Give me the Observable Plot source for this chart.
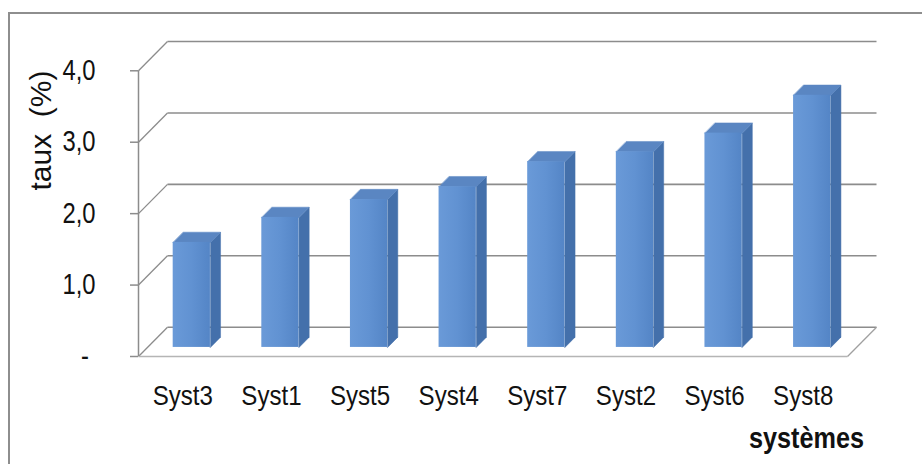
<!DOCTYPE html>
<html>
<head>
<meta charset="utf-8">
<script src="https://cdn.jsdelivr.net/npm/d3@7"></script>
<script src="https://cdn.jsdelivr.net/npm/@observablehq/plot@0.6"></script>
<style>
  html, body { margin: 0; padding: 0; background: #fff; overflow: hidden; }
  #wrap { position: relative; width: 922px; height: 464px; overflow: hidden; }
  #border { position: absolute; left: 8px; top: 12px; width: 1000px; height: 1000px;
            border: 2px solid #8e8e8e; box-sizing: border-box; }
  #chart { position: absolute; left: 0; top: 0; }
</style>
</head>
<body>
<div id="wrap"><div id="border"></div><div id="chart"></div></div>
<script>
// Rate per system, sorted ascending
const categories = ["Syst3", "Syst1", "Syst5", "Syst4", "Syst7", "Syst2", "Syst6", "Syst8"];
const values = [1.47, 1.82, 2.07, 2.25, 2.6, 2.74, 3.0, 3.53];
const yTicks = [0, 1, 2, 3, 4];
const yTitle = "taux  (%)";
const xTitle = "systèmes";

// Oblique depth of the 3-D box, in data units (x: category widths, y: value units)
const DX = 0.327, DY = 0.41;
// Column footprint inside each category slot, and its depth range
const BX0 = 0.29, BX1 = 0.71, D0 = 0.31, D1 = 0.66;

const bars = categories.map((name, i) => ({name, i, value: values[i]}));

// Oblique projection of a point (u along categories, v value, d depth 0..1)
const P = (u, v, d) => ({x: u + d * DX, y: v + d * DY});

const sides = bars.flatMap(b => [
  P(b.i + BX1, 0, D0), P(b.i + BX1, 0, D1), P(b.i + BX1, b.value, D1), P(b.i + BX1, b.value, D0)
].map(p => ({...p, key: b.name})));

const tops = bars.flatMap(b => [
  P(b.i + BX0, b.value, D0), P(b.i + BX1, b.value, D0), P(b.i + BX1, b.value, D1), P(b.i + BX0, b.value, D1)
].map(p => ({...p, key: b.name})));

const fmt = t => t === 0 ? "-\u00a0" : t.toFixed(1).replace(".", ",");
const grid = "#8c8c8c";
const font = "'Liberation Sans', Arial, sans-serif";

// Gradient used on the column fronts
const defs = () => {
  const g = d3.create("svg:defs");
  const lg = g.append("linearGradient").attr("id", "barFront")
    .attr("x1", 0).attr("x2", 1).attr("y1", 0).attr("y2", 0);
  lg.append("stop").attr("offset", "0%").attr("stop-color", "#6a9ad8");
  lg.append("stop").attr("offset", "50%").attr("stop-color", "#6192d2");
  lg.append("stop").attr("offset", "100%").attr("stop-color", "#5485c6");
  return g.node();
};

const chart = Plot.plot({
  width: 922,
  height: 464,
  marginLeft: 138,
  marginRight: 46,
  marginTop: 41,
  marginBottom: 108,
  style: {fontFamily: font, fontSize: "28px", color: "#111", background: "transparent", overflow: "visible"},
  x: {type: "linear", domain: [0, categories.length + DX], axis: null},
  y: {type: "linear", domain: [0, 4 + DY], axis: null},
  marks: [
    defs,
    // back wall gridlines
    Plot.link(yTicks, {x1: DX, x2: categories.length + DX, y1: t => t + DY, y2: t => t + DY, stroke: grid, strokeWidth: 1.6}),
    // side wall diagonals
    Plot.link(yTicks, {x1: 0, x2: DX, y1: t => t, y2: t => t + DY, stroke: grid, strokeWidth: 1.3}),
    // floor front edge and right edge
    Plot.link([0], {x1: 0, x2: categories.length, y1: 0, y2: 0, stroke: "#b5b5b5", strokeWidth: 1.5}),
    Plot.link([0], {x1: categories.length, x2: categories.length + DX, y1: 0, y2: DY, stroke: "#a0a0a0", strokeWidth: 1.3}),
    // columns: side, top, front
    Plot.line(sides, {x: "x", y: "y", z: "key", curve: "linear-closed", fill: "#4470ab", stroke: "#4470ab", strokeWidth: 0.5}),
    Plot.line(tops, {x: "x", y: "y", z: "key", curve: "linear-closed", fill: "#5a86c2", stroke: "#5a86c2", strokeWidth: 0.5}),
    Plot.rect(bars, {
      x1: b => b.i + BX0 + D0 * DX, x2: b => b.i + BX1 + D0 * DX,
      y1: D0 * DY, y2: b => b.value + D0 * DY,
      fill: "url(#barFront)"
    }),
    // front value axis
    Plot.ruleX([0], {y1: 0, y2: 4, stroke: grid, strokeWidth: 1.5}),
    Plot.axisY({ticks: yTicks, tickFormat: fmt, tickSize: 8, tickPadding: 35, stroke: grid, strokeWidth: 1.5,
      fontSize: 29, label: null}),
    Plot.axisX({ticks: bars.map(b => b.i + 0.5), tickFormat: u => categories[Math.floor(u)],
      tickSize: 0, tickPadding: 29, fontSize: 28, label: null}),
    // axis titles
    Plot.text([yTitle], {text: d => d, frameAnchor: "top-left", dx: -97, dy: 89, rotate: -90,
      textAnchor: "middle", lineAnchor: "middle", fontSize: 30}),
    Plot.text([xTitle], {text: d => d, frameAnchor: "bottom-right", dx: -70, dy: 91,
      textAnchor: "middle", lineAnchor: "bottom", fontSize: 29, fontWeight: "bold"})
  ]
});

document.getElementById("chart").append(chart);

// Narrow-face look for tick labels and the category title
function condense(selector, k) {
  chart.querySelectorAll(selector).forEach(t => {
    const w = t.getComputedTextLength();
    t.setAttribute("textLength", (w * k).toFixed(1));
    t.setAttribute("lengthAdjust", "spacingAndGlyphs");
  });
}
condense('g[aria-label="y-axis tick label"] text', 0.82);
condense('g[aria-label="x-axis tick label"] text', 0.86);
chart.querySelectorAll('g[aria-label="text"] text').forEach(t => {
  if (t.textContent === xTitle) {
    const w = t.getComputedTextLength();
    t.setAttribute("textLength", (w * 0.87).toFixed(1));
    t.setAttribute("lengthAdjust", "spacingAndGlyphs");
  }
});
</script>
</body>
</html>
